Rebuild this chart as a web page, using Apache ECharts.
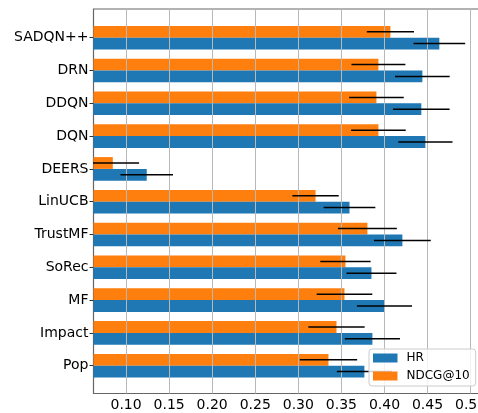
<!DOCTYPE html>
<html>
<head>
<meta charset="utf-8">
<script src="https://cdn.jsdelivr.net/npm/echarts@6/dist/echarts.min.js"></script>
<style>
html,body{margin:0;padding:0;background:#fff;}
#chart{width:478px;height:413px;}
</style>
</head>
<body>
<div id="chart"></div>
<script>
const categories = ['SADQN++','DRN','DDQN','DQN','DEERS','LinUCB','TrustMF','SoRec','MF','Impact','Pop'];
const hrValues = [0.4637, 0.444, 0.4428, 0.4475, 0.124, 0.3594, 0.4208, 0.3849, 0.400, 0.386, 0.3767];
const hrErrors = [0.030, 0.0317, 0.0328, 0.0315, 0.0305, 0.030, 0.033, 0.029, 0.032, 0.032, 0.032];
const ndcgValues = [0.4069, 0.393, 0.3907, 0.393, 0.0846, 0.320, 0.3802, 0.3547, 0.3536, 0.3443, 0.335];
const ndcgErrors = [0.0274, 0.0313, 0.0317, 0.0317, 0.0305, 0.0269, 0.0342, 0.0292, 0.0323, 0.0327, 0.0333];
const tickValues = [0.10, 0.15, 0.20, 0.25, 0.30, 0.35, 0.40, 0.45, 0.50];
const seriesNames = ['HR', 'NDCG@10'];

const X_MIN = 0.0622, X_MAX = 0.5144;
const FONT = 'DejaVu Sans';

function errSeries(name, values, errors, sign) {
  return {
    type: 'custom',
    name: name + ' err',
    xAxisIndex: 1, yAxisIndex: 1,
    clip: true,
    z: 4,
    silent: true,
    data: values.map((v, i) => [v, i, errors[i]]),
    renderItem: function (params, api) {
      const v = api.value(0), idx = api.value(1), e = api.value(2);
      const c = api.coord([v, idx]);
      const band = api.size([0, 1])[1];
      const y = c[1] + sign * band * 0.18;
      const lo = api.coord([v - e, idx])[0];
      const hi = api.coord([v + e, idx])[0];
      return {
        type: 'line',
        shape: { x1: lo, y1: y, x2: hi, y2: y },
        style: { stroke: '#000', lineWidth: 1.5 }
      };
    }
  };
}

const chart = echarts.init(document.getElementById('chart'), null, { renderer: 'canvas' });
chart.setOption({
  animation: false,
  textStyle: { fontFamily: FONT },
  grid: [
    { left: 93.5, right: -5, top: 9, bottom: 19.5, show: true, borderColor: '#666', borderWidth: 1.2,
      backgroundColor: 'transparent', containLabel: false, outerBoundsMode: 'none' },
    { left: 93.5, right: -5, top: 21.3, bottom: 30.9, containLabel: false, outerBoundsMode: 'none' }
  ],
  xAxis: [
    {
      type: 'value', gridIndex: 0, min: X_MIN, max: X_MAX, z: 3,
      axisLine: { show: false },
      axisTick: { show: false, customValues: tickValues },
      axisLabel: {
        customValues: tickValues, margin: 5,
        formatter: v => v.toFixed(2),
        fontSize: 14, color: '#000', fontFamily: FONT
      },
      splitLine: { show: true, lineStyle: { color: '#b8b8b8', width: 1 } }
    },
    { type: 'value', gridIndex: 1, min: X_MIN, max: X_MAX, show: false }
  ],
  yAxis: [
    { type: 'value', gridIndex: 0, min: 0, max: 1, show: false },
    {
      type: 'category', gridIndex: 1, data: categories, inverse: true,
      axisLine: { show: false },
      axisTick: { show: true, alignWithLabel: true, length: 4, lineStyle: { color: '#333', width: 1 } },
      axisLabel: { fontSize: 14, color: '#000', margin: 5, fontFamily: FONT },
      splitLine: { show: false }
    }
  ],
  legend: {
    data: seriesNames,
    orient: 'vertical',
    left: 369, top: 349,
    padding: [2, 6, 3, 4],
    itemGap: 4, itemWidth: 24.5, itemHeight: 9,
    icon: 'rect',
    backgroundColor: 'rgba(255,255,255,0.8)',
    borderColor: '#cccccc', borderWidth: 1, borderRadius: 3,
    textStyle: { fontSize: 12, lineHeight: 14, color: '#000', fontFamily: FONT, padding: [0, 0, 0, 4] },
    z: 10
  },
  series: [
    {
      type: 'bar', name: seriesNames[1], xAxisIndex: 1, yAxisIndex: 1,
      data: ndcgValues, barWidth: '36%', barGap: '0%',
      itemStyle: { color: '#ff7f0e' }, z: 2
    },
    {
      type: 'bar', name: seriesNames[0], xAxisIndex: 1, yAxisIndex: 1,
      data: hrValues, barWidth: '36%', barGap: '0%',
      itemStyle: { color: '#1f77b4' }, z: 2
    },
    errSeries(seriesNames[1], ndcgValues, ndcgErrors, -1),
    errSeries(seriesNames[0], hrValues, hrErrors, 1)
  ]
});
</script>
</body>
</html>
